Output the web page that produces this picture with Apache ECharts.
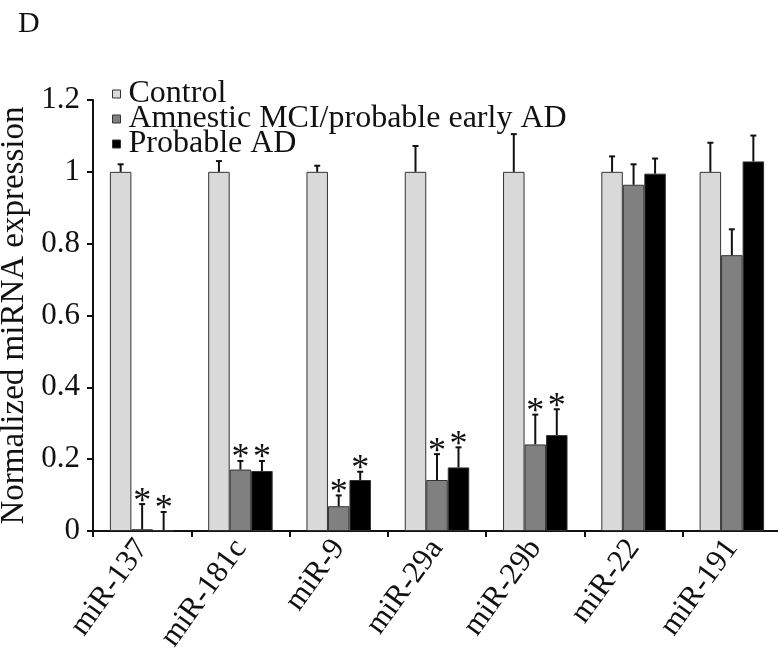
<!DOCTYPE html>
<html>
<head>
<meta charset="utf-8">
<script src="https://cdn.jsdelivr.net/npm/echarts@6/dist/echarts.min.js"></script>
<style>html,body{margin:0;padding:0;background:#fff;}#c{width:778px;height:652px;}</style>
</head>
<body>
<div id="c"></div>
<script>
var categories = ['miR-137', 'miR-181c', 'miR-9', 'miR-29a', 'miR-29b', 'miR-22', 'miR-191'];
var seriesNames = ['Control', 'Amnestic MCI/probable early AD', 'Probable AD'];
var controlValues = [1, 1, 1, 1, 1, 1, 1];
var controlErrors = [0.021, 0.03, 0.017, 0.072, 0.105, 0.043, 0.081];
var mciValues = [0.005, 0.171, 0.069, 0.142, 0.241, 0.964, 0.768];
var mciErrors = [0.07, 0.024, 0.03, 0.072, 0.083, 0.057, 0.072];
var adValues = [0.002, 0.167, 0.142, 0.177, 0.267, 0.995, 1.029];
var adErrors = [0.051, 0.028, 0.023, 0.056, 0.072, 0.042, 0.072];
var controlSignificant = [0, 0, 0, 0, 0, 0, 0];
var mciSignificant = [1, 1, 1, 1, 1, 0, 0];
var adSignificant = [1, 1, 1, 1, 1, 0, 0];
var yTicks = [0, 0.2, 0.4, 0.6, 0.8, 1, 1.2];

var FONT = '"Liberation Serif", "Times New Roman", serif';
var BAR_W = 21.5;
var colors = ['#d9d9d9', '#808080', '#000000'];

function errData(vals, errs, sig) {
  return vals.map(function (v, i) { return [i, v, errs[i], sig[i]]; });
}

function makeErr(idx, vals, errs, sig) {
  var offset = (idx - 1) * BAR_W;
  return {
    type: 'custom',
    z: 5,
    silent: true,
    data: errData(vals, errs, sig),
    encode: { x: 0, y: 1 },
    renderItem: function (params, api) {
      var x = api.value(0), v = api.value(1), e = api.value(2), s = api.value(3);
      var p0 = api.coord([x, v]);
      var p1 = api.coord([x, v + e]);
      var cx = p0[0] + offset;
      var children = [
        { type: 'line', shape: { x1: cx, y1: p0[1], x2: cx, y2: p1[1] }, style: { stroke: '#111', lineWidth: 2 } },
        { type: 'line', shape: { x1: cx - 3, y1: p1[1], x2: cx + 3, y2: p1[1] }, style: { stroke: '#111', lineWidth: 2 } }
      ];
      if (s) {
        children.push({
          type: 'text',
          style: {
            text: '*', x: cx, y: p1[1] + 16,
            align: 'center', verticalAlign: 'bottom',
            font: '36px ' + FONT, fill: '#111'
          }
        });
      }
      return { type: 'group', children: children };
    }
  };
}

function makeBar(idx, vals) {
  return {
    name: seriesNames[idx],
    type: 'bar',
    data: vals,
    barWidth: BAR_W,
    barGap: '0%',
    itemStyle: { color: colors[idx], borderColor: '#333', borderWidth: 1 }
  };
}

var chart = echarts.init(document.getElementById('c'), null, { renderer: 'canvas' });
chart.setOption({
  animation: false,
  backgroundColor: '#fff',
  title: {
    text: 'D', left: 13, top: 4,
    textStyle: { fontFamily: FONT, fontSize: 30, fontWeight: 'normal', color: '#111' }
  },
  legend: {
    data: seriesNames,
    orient: 'vertical',
    left: 107,
    top: 73,
    itemWidth: 8,
    itemHeight: 8,
    itemGap: -7,
    icon: 'rect',
    itemStyle: { borderColor: '#333', borderWidth: 1 },
    textStyle: { fontFamily: FONT, fontSize: 32, color: '#111', padding: [0, 0, 0, 3] }
  },
  grid: { left: 93, right: -3, top: 100, bottom: 121, outerBoundsMode: 'none', containLabel: false },
  xAxis: {
    type: 'category',
    data: categories,
    axisLine: { lineStyle: { color: '#111', width: 2 } },
    axisTick: { show: true, length: 6, lineStyle: { color: '#111', width: 2 } },
    axisLabel: { rotate: 54, margin: 12, fontFamily: FONT, fontSize: 31, color: '#111' }
  },
  yAxis: {
    type: 'value',
    min: 0, max: 1.2, interval: 0.2,
    name: 'Normalized miRNA expression',
    nameLocation: 'middle',
    nameRotate: 90,
    nameGap: 58,
    nameTextStyle: { fontFamily: FONT, fontSize: 33, color: '#111' },
    splitLine: { show: false },
    axisLine: { show: true, lineStyle: { color: '#111', width: 2 } },
    axisTick: { show: true, length: 6, lineStyle: { color: '#111', width: 2 } },
    axisLabel: {
      margin: 13, fontFamily: FONT, fontSize: 31, color: '#111',
      formatter: function (v) {
        for (var i = 0; i < yTicks.length; i++) if (Math.abs(v - yTicks[i]) < 1e-9) return String(yTicks[i]);
        return '';
      }
    }
  },
  series: [
    makeBar(0, controlValues),
    makeBar(1, mciValues),
    makeBar(2, adValues),
    makeErr(0, controlValues, controlErrors, controlSignificant),
    makeErr(1, mciValues, mciErrors, mciSignificant),
    makeErr(2, adValues, adErrors, adSignificant)
  ]
});
</script>
</body>
</html>
